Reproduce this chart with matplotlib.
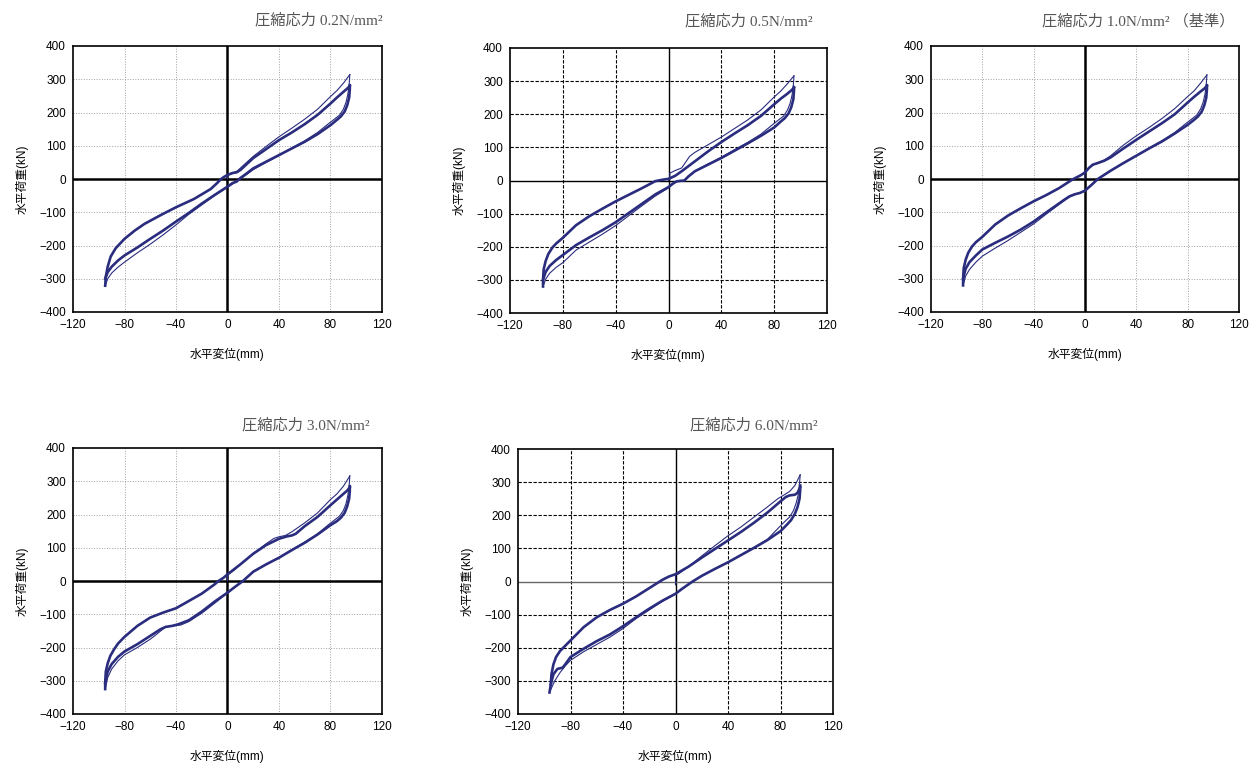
import numpy as np
import matplotlib.pyplot as plt

plt.rcParams['font.family'] = ['Liberation Sans', 'Noto Sans CJK JP', 'DejaVu Sans']

titles = ['圧縮応力 0.2N/mm²', '圧縮応力 0.5N/mm²', '圧縮応力 1.0N/mm² （基準）',
          '圧縮応力 3.0N/mm²', '圧縮応力 6.0N/mm²']
xticks = [-120, -80, -40, 0, 40, 80, 120]
yticks = [-400, -300, -200, -100, 0, 100, 200, 300, 400]

# ---- 0.2 N/mm2 ----
p1_v_x = [0, 0, 3, 7, 12, 20, 30, 40, 50, 60, 70, 80, 85, 90, 95]
p1_v_y = [0, 13, 18, 22, 40, 68, 98, 127, 153, 180, 210, 248, 266, 288, 314]
p1_d1_x = [95, 94.5, 93.5, 92, 90, 87, 83, 78, 70, 60, 50, 40, 30, 20, 10, 0, -10, -20, -30, -40, -50, -60, -70, -80, -85, -90, -93, -95]
p1_d1_y = [314, 285, 255, 230, 210, 192, 180, 165, 140, 115, 93, 70, 50, 28, 0, -25, -50, -78, -106, -138, -168, -196, -222, -250, -265, -283, -300, -321]
p1_up_x = [-95, -94.5, -93, -90.7, -86.8, -80, -72, -64.5, -51.6, -40, -26, -13, -8, -5, -2, 0, 4, 7, 10, 20, 30, 40, 50, 60, 70, 80, 85, 90, 93, 95]
p1_up_y = [-321, -293, -263, -233, -208, -180, -155, -135, -108, -85, -60, -30, -12, 0, 8, 12, 18, 20, 27, 63, 90, 117, 140, 165, 193, 227, 245, 262, 272, 280]
p1_dn_x = [95, 95, 94.5, 93, 91, 88, 85, 80, 70, 60, 50, 40, 30, 20, 15, 10, 7, 4, 0, -10, -20, -30, -40, -50, -60, -70, -80, -85, -90, -93, -95]
p1_dn_y = [282, 270, 245, 222, 203, 188, 178, 162, 135, 112, 92, 72, 52, 32, 17, 3, -8, -12, -23, -48, -74, -102, -128, -155, -180, -206, -230, -245, -264, -280, -300]

# ---- 0.5 N/mm2 ----
p2_v_x = [0, 1, 1, 5, 10, 16, 20, 30, 40, 50, 60, 70, 80, 85, 90, 95]
p2_v_y = [0, 3, 22, 30, 38, 73, 85, 108, 131, 157, 183, 213, 252, 270, 292, 316]
p2_d1_x = [95, 94.5, 93.5, 92, 90, 87, 83, 78, 70, 60, 50, 40, 30, 20, 12, 6, 0, -10, -20, -30, -40, -50, -60, -70, -80, -85, -90, -93, -95]
p2_d1_y = [316, 287, 257, 232, 212, 194, 182, 166, 140, 115, 93, 70, 50, 28, 0, -3, -22, -47, -76, -106, -136, -162, -186, -210, -248, -262, -280, -298, -320]
p2_up_x = [-95, -95, -94.5, -93, -91, -88, -85, -80, -70, -60, -50, -40, -30, -20, -10, -5, 0, 5, 10, 20, 30, 40, 50, 60, 70, 80, 85, 90, 93, 95]
p2_up_y = [-320, -300, -268, -243, -222, -203, -190, -173, -135, -108, -85, -63, -43, -23, -2, 2, 5, 14, 28, 58, 88, 116, 142, 167, 195, 230, 247, 262, 272, 280]
p2_dn_x = [95, 95, 94.5, 93, 91, 88, 85, 80, 70, 60, 50, 40, 30, 20, 15, 12, 9, 6, 3, 0, -10, -20, -30, -40, -50, -60, -70, -80, -85, -90, -93, -95]
p2_dn_y = [282, 270, 245, 222, 203, 188, 178, 160, 135, 112, 90, 68, 48, 28, 12, 0, -1, -3, -10, -20, -42, -70, -98, -126, -150, -172, -195, -225, -240, -258, -276, -300]

# ---- 1.0 N/mm2 ----
p3_v_x = [0, 0, 4, 8, 15, 20, 30, 40, 50, 60, 70, 80, 85, 90, 95]
p3_v_y = [0, 18, 36, 46, 57, 70, 102, 130, 155, 182, 212, 248, 265, 288, 313]
p3_d1_x = [95, 94.5, 93.5, 92, 90, 87, 83, 78, 70, 60, 50, 40, 30, 20, 10, 5, 0, -8, -12, -20, -30, -40, -50, -60, -70, -80, -85, -90, -93, -95]
p3_d1_y = [313, 285, 255, 230, 210, 192, 180, 165, 140, 115, 93, 70, 48, 25, 0, -18, -36, -47, -54, -76, -105, -135, -160, -185, -208, -232, -250, -272, -292, -320]
p3_up_x = [-95, -95, -94.5, -93, -91, -88, -85, -80, -70, -60, -50, -40, -30, -20, -10, -6, -3, 0, 3, 6, 10, 15, 20, 30, 40, 50, 60, 70, 80, 85, 90, 93, 95]
p3_up_y = [-320, -300, -268, -243, -222, -203, -190, -174, -137, -110, -88, -67, -48, -27, -2, 6, 12, 20, 33, 43, 48, 55, 65, 92, 118, 143, 168, 195, 230, 247, 263, 272, 280]
p3_dn_x = [95, 95, 94.5, 93, 91, 88, 85, 80, 70, 60, 50, 40, 30, 20, 10, 5, 0, -4, -8, -12, -16, -20, -30, -40, -50, -60, -70, -80, -85, -90, -93, -95]
p3_dn_y = [282, 270, 245, 222, 203, 188, 178, 163, 137, 113, 92, 70, 48, 25, 0, -18, -35, -42, -46, -52, -62, -73, -100, -128, -152, -173, -192, -212, -230, -250, -270, -300]

# ---- 3.0 N/mm2 ----
p4_v_x = [0, 0, 5, 10, 20, 30, 36, 40, 45, 50, 60, 70, 80, 85, 90, 95]
p4_v_y = [0, 18, 32, 50, 83, 112, 128, 133, 137, 148, 175, 205, 245, 262, 285, 316]
p4_d1_x = [95, 94.5, 93.5, 92, 90, 87, 83, 78, 70, 60, 50, 40, 30, 20, 12, 0, -10, -20, -30, -36, -42, -48, -55, -60, -70, -80, -85, -90, -93, -95]
p4_d1_y = [316, 288, 258, 232, 212, 195, 183, 168, 142, 117, 94, 70, 50, 28, 0, -36, -67, -97, -122, -132, -135, -138, -160, -175, -200, -222, -240, -265, -290, -325]
p4_up_x = [-95, -95, -94.5, -93, -91, -88, -85, -80, -70, -60, -50, -40, -30, -20, -10, -7, -3, 0, 10, 20, 30, 40, 46, 50, 53, 60, 70, 80, 85, 90, 93, 95]
p4_up_y = [-325, -305, -272, -247, -225, -205, -188, -168, -135, -110, -95, -82, -60, -38, -10, 0, 10, 20, 50, 82, 108, 127, 134, 137, 142, 165, 193, 228, 245, 262, 272, 282]
p4_dn_x = [95, 95, 94.5, 93, 91, 88, 85, 80, 70, 60, 50, 40, 30, 20, 12, 5, 0, -10, -20, -30, -38, -43, -48, -52, -60, -70, -80, -85, -90, -93, -95]
p4_dn_y = [285, 272, 248, 225, 205, 190, 180, 168, 140, 115, 93, 70, 50, 28, 0, -20, -35, -62, -92, -118, -130, -135, -138, -145, -165, -190, -212, -228, -250, -272, -305]

# ---- 6.0 N/mm2 ----
p5_v_x = [0, 0, 2, 10, 20, 30, 40, 50, 60, 70, 78, 83, 87, 91, 95]
p5_v_y = [-10, 20, 22, 45, 77, 108, 138, 165, 195, 225, 250, 262, 272, 290, 322]
p5_d1_x = [95, 94.5, 93.5, 92, 90, 87, 83, 78, 70, 60, 50, 40, 30, 20, 13, 0, -10, -20, -30, -40, -50, -60, -70, -80, -84, -88, -92, -96]
p5_d1_y = [322, 295, 262, 238, 215, 195, 180, 160, 127, 103, 80, 58, 38, 17, 0, -38, -60, -86, -112, -142, -168, -190, -212, -238, -255, -275, -300, -335]
p5_up_x = [-96, -95, -94.5, -93, -91, -88, -85, -80, -70, -60, -50, -40, -30, -20, -10, -5, 0, 10, 20, 30, 40, 50, 60, 70, 80, 84, 87, 91, 93, 95]
p5_up_y = [-335, -310, -280, -250, -228, -210, -198, -178, -138, -108, -86, -67, -45, -20, 5, 15, 22, 45, 72, 98, 124, 150, 178, 208, 242, 255, 260, 262, 268, 285]
p5_dn_x = [95, 95, 94.5, 93, 91, 88, 85, 80, 70, 60, 50, 40, 30, 20, 13, 5, 0, -10, -20, -30, -40, -50, -60, -70, -80, -84, -86, -90, -93, -95]
p5_dn_y = [290, 275, 250, 225, 205, 185, 172, 152, 125, 102, 80, 58, 38, 17, 0, -22, -37, -58, -82, -108, -135, -160, -180, -203, -228, -250, -260, -264, -280, -310]

loops = [
    (p1_v_x, p1_v_y, p1_d1_x, p1_d1_y, p1_up_x, p1_up_y, p1_dn_x, p1_dn_y),
    (p2_v_x, p2_v_y, p2_d1_x, p2_d1_y, p2_up_x, p2_up_y, p2_dn_x, p2_dn_y),
    (p3_v_x, p3_v_y, p3_d1_x, p3_d1_y, p3_up_x, p3_up_y, p3_dn_x, p3_dn_y),
    (p4_v_x, p4_v_y, p4_d1_x, p4_d1_y, p4_up_x, p4_up_y, p4_dn_x, p4_dn_y),
    (p5_v_x, p5_v_y, p5_d1_x, p5_d1_y, p5_up_x, p5_up_y, p5_dn_x, p5_dn_y),
]

W, H = 1252, 765
# axes boxes in pixels: left, top, right, bottom
boxes = [(73, 46, 382, 312), (510, 48, 827, 313), (931, 46, 1239, 312),
         (73, 448, 382, 714), (518, 449, 833, 714)]
dashed = [False, True, False, False, True]
title_pos = [(1.003, 1.095), (0.956, 1.10), (0.987, 1.095), (0.961, 1.087), (0.952, 1.09)]

navy = '#2a2c7e'
fig = plt.figure(figsize=(W / 100, H / 100), dpi=100)

for i in range(5):
    l, t, r, b = boxes[i]
    ax = fig.add_axes([l / W, 1 - b / H, (r - l) / W, (b - t) / H])
    vx, vy, d1x, d1y, ux, uy, dx, dy = loops[i]

    if dashed[i]:
        for v in xticks[1:-1]:
            if v != 0:
                ax.axvline(v, color='black', lw=0.8, ls=(0, (3, 1.5)), zorder=1)
        for v in yticks[1:-1]:
            if v != 0:
                ax.axhline(v, color='black', lw=0.8, ls=(0, (3, 1.5)), zorder=1)
        ax.axvline(0, color='black', lw=1.0, zorder=1)
        ax.axhline(0, color='black' if i == 1 else '#666666', lw=1.0, zorder=1)
    else:
        for v in xticks[1:-1]:
            ax.axvline(v, color='#a0a0a0', lw=0.7, ls=':', zorder=1)
        for v in yticks[1:-1]:
            ax.axhline(v, color='#a0a0a0', lw=0.7, ls=':', zorder=1)
        ax.axvline(0, color='black', lw=1.8, zorder=1)
        ax.axhline(0, color='black', lw=1.8, zorder=1)

    ax.plot(vx, vy, color=navy, lw=0.8, zorder=3)
    ax.plot(d1x, d1y, color=navy, lw=0.8, zorder=3)
    ax.plot(ux, uy, color=navy, lw=1.9, zorder=3)
    ax.plot(dx, dy, color=navy, lw=1.9, zorder=3)

    ax.set_xlim(-120, 120)
    ax.set_ylim(-400, 400)
    ax.set_xticks(xticks)
    ax.set_yticks(yticks)
    ax.tick_params(length=0, labelsize=8.5, pad=5)
    for s in ax.spines.values():
        s.set_linewidth(1.2)
    ax.set_xlabel('水平変位(mm)', fontsize=8.5, labelpad=12)
    ax.set_ylabel('水平荷重(kN)', fontsize=8.5, labelpad=8)
    tx, ty = title_pos[i]
    ax.text(tx, ty, titles[i], transform=ax.transAxes, ha='right', va='center',
            fontsize=11, color='#555555',
            family=['Liberation Serif', 'Noto Sans CJK JP', 'DejaVu Sans'])

fig.savefig('out.png', dpi=100)
